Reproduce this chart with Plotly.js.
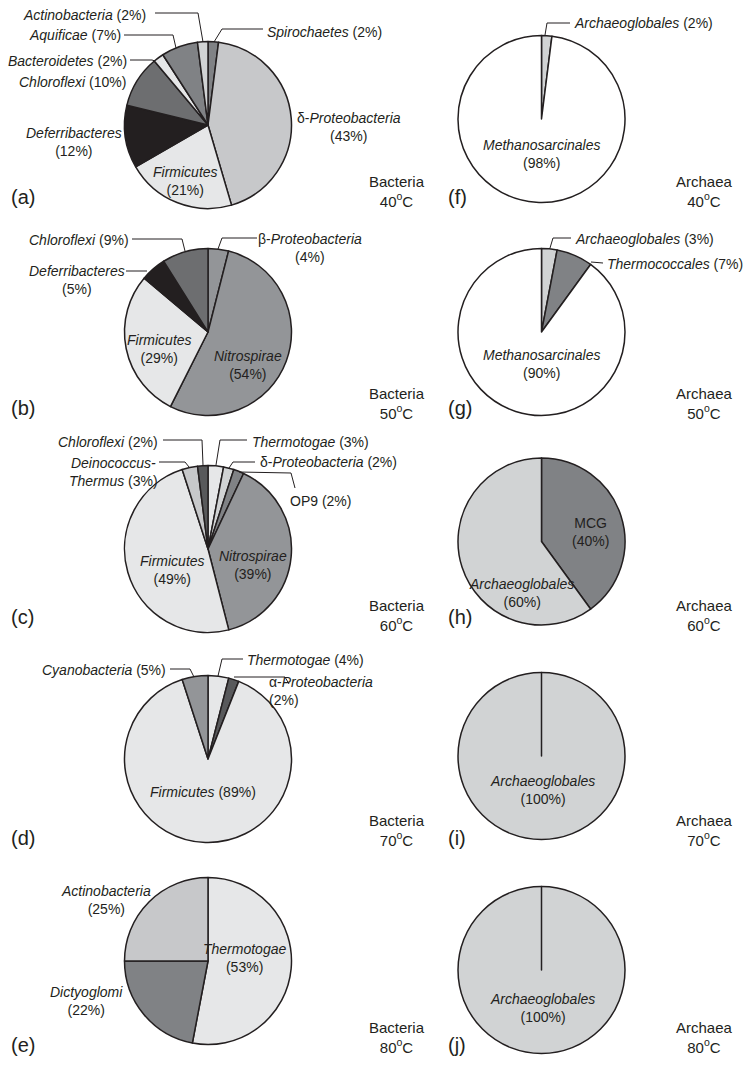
<!DOCTYPE html>
<html><head><meta charset="utf-8">
<script src="https://cdn.plot.ly/plotly-3.0.1.min.js"></script>
<style>html,body{margin:0;padding:0;background:#fff}#chart{width:749px;height:1070px}</style>
</head><body><div id="chart"></div>
<script>
// ---------- data ----------
const aLabels = ['Spirochaetes','δ-Proteobacteria','Firmicutes','Deferribacteres','Chloroflexi','Bacteroidetes','Aquificae','Actinobacteria'];
const aValues = [2,43,21,12,10,2,7,2];
const bLabels = ['β-Proteobacteria','Nitrospirae','Firmicutes','Deferribacteres','Chloroflexi'];
const bValues = [4,54,29,5,9];
const cLabels = ['Thermotogae','δ-Proteobacteria','OP9','Nitrospirae','Firmicutes','Deinococcus-Thermus','Chloroflexi'];
const cValues = [3,2,2,39,49,3,2];
const dLabels = ['Thermotogae','α-Proteobacteria','Firmicutes','Cyanobacteria'];
const dValues = [4,2,89,5];
const eLabels = ['Thermotogae','Dictyoglomi','Actinobacteria'];
const eValues = [53,22,25];
const fLabels = ['Archaeoglobales','Methanosarcinales'];
const fValues = [2,98];
const gLabels = ['Archaeoglobales','Thermococcales','Methanosarcinales'];
const gValues = [3,7,90];
const hLabels = ['MCG','Archaeoglobales'];
const hValues = [40,60];
const iLabels = ['Archaeoglobales',''];
const iValues = [100,0];
const jLabels = ['Archaeoglobales',''];
const jValues = [100,0];
const panelLetters = ['(a)','(b)','(c)','(d)','(e)','(f)','(g)','(h)','(i)','(j)'];
const domains = ['Bacteria','Archaea'];
const temperatures = ['40','50','60','70','80'];

// ---------- styles ----------
const W = 749, H = 1070;
const FONT = 'Liberation Sans, Arial, Helvetica, sans-serif';
const INK = '#231f20';
const C = {
  blk:'#231f20', dk:'#58595b', dg:'#6d6e70', md:'#808285', ml:'#939598',
  lt:'#c7c8ca', lr:'#d1d3d4', vl:'#e6e7e8', wh:'#ffffff'
};
const px = x => x / W;
const py = y => 1 - y / H;
const R = 83.5;

function pie(labels, values, colors, cx, cy) {
  return {
    type:'pie', labels:labels, values:values, sort:false, direction:'clockwise', rotation:0,
    textinfo:'none', hoverinfo:'label+value', showlegend:false,
    marker:{colors:colors, line:{color:INK, width:1.5}},
    domain:{x:[px(cx-R), px(cx+R)], y:[py(cy+R), py(cy-R)]}
  };
}

const LX = 208, RX = 541.5;
const data = [
  pie(aLabels, aValues, [C.md,C.lt,C.vl,C.blk,C.dg,C.vl,C.md,C.lr], LX, 125),
  pie(bLabels, bValues, [C.ml,C.ml,C.vl,C.blk,C.dg], LX, 332),
  pie(cLabels, cValues, [C.vl,C.lr,C.md,C.ml,C.vl,C.lt,C.dk], LX, 549),
  pie(dLabels, dValues, [C.vl,C.dk,C.vl,C.ml], LX, 759),
  pie(eLabels, eValues, [C.vl,C.md,C.lt], LX, 961),
  pie(fLabels, fValues, [C.lr,C.wh], RX, 119),
  pie(gLabels, gValues, [C.lr,C.md,C.wh], RX, 332),
  pie(hLabels, hValues, [C.md,C.lr], RX, 541.5),
  pie(iLabels, iValues, [C.lr,C.lr], RX, 756),
  pie(jLabels, jValues, [C.lr,C.lr], RX, 970)
];

// label text built from the data arrays
function nm(name) {
  const m = name.match(/^([αβδ])-(.*)$/);
  if (m) return m[1] + '-<i>' + m[2] + '</i>';
  if (name === 'OP9' || name === 'MCG') return name;
  return '<i>' + name + '</i>';
}
function lab(labels, values, k, br) {
  return nm(labels[k]) + (br ? '<br>' : ' ') + '(' + values[k] + '%)';
}

const annotations = [];
function ann(x, y, text, xanchor, size, align) {
  annotations.push({xref:'paper', yref:'paper', x:px(x), y:py(y), text:text, showarrow:false,
    xanchor:xanchor||'center', yanchor:'middle', align:align||'center',
    font:{family:FONT, size:size||14, color:INK}});
}

// (a)
ann(148, 15, lab(aLabels,aValues,7), 'right');
ann(123, 35, lab(aLabels,aValues,6), 'right');
ann(129, 61, lab(aLabels,aValues,5), 'right');
ann(128, 82, lab(aLabels,aValues,4), 'right');
ann(74, 142, lab(aLabels,aValues,3,true));
ann(185, 181, lab(aLabels,aValues,2,true));
ann(349, 127, lab(aLabels,aValues,1,true));
ann(265, 32, lab(aLabels,aValues,0), 'left');
// (f)
ann(572, 23, lab(fLabels,fValues,0), 'left');
ann(542, 154, lab(fLabels,fValues,1,true));
// (b)
ann(131, 240, lab(bLabels,bValues,4), 'right');
ann(77, 280, lab(bLabels,bValues,3,true));
ann(310, 248, lab(bLabels,bValues,0,true));
ann(159, 349, lab(bLabels,bValues,2,true));
ann(248, 365, lab(bLabels,bValues,1,true));
// (g)
ann(573, 239, lab(gLabels,gValues,0), 'left');
ann(605, 264, lab(gLabels,gValues,1), 'left');
ann(542, 364, lab(gLabels,gValues,2,true));
// (c)
ann(160, 442, lab(cLabels,cValues,6), 'right');
ann(113, 472, '<i>Deinococcus-</i><br><i>Thermus</i> (' + cValues[5] + '%)');
ann(250, 442, lab(cLabels,cValues,0), 'left');
ann(258, 462, lab(cLabels,cValues,1), 'left');
ann(288, 501, lab(cLabels,cValues,2), 'left');
ann(172, 570, lab(cLabels,cValues,4,true));
ann(253, 565, lab(cLabels,cValues,3,true));
// (h)
ann(590, 532, lab(hLabels,hValues,0,true));
ann(521, 593, lab(hLabels,hValues,1,true));
// (d)
ann(168, 670, lab(dLabels,dValues,3), 'right');
ann(245, 660, lab(dLabels,dValues,0), 'left');
ann(267, 691, lab(dLabels,dValues,1,true), 'left', 14, 'left');
ann(203, 792, lab(dLabels,dValues,2));
// (i)
ann(542, 790, lab(iLabels,iValues,0,true));
// (e)
ann(106, 900, lab(eLabels,eValues,2,true));
ann(245, 958, lab(eLabels,eValues,0,true));
ann(86, 1001, lab(eLabels,eValues,1,true));
// (j)
ann(542, 1008, lab(jLabels,jValues,0,true));

// row labels and panel letters
const rowY = [191, 403, 615, 830, 1037];
const letY = [197, 408, 617, 838, 1045];
temperatures.forEach((t, r) => {
  ann(397, rowY[r], domains[0] + '<br>' + t + '<sup>o</sup>C', 'center', 15);
  ann(704, rowY[r], domains[1] + '<br>' + t + '<sup>o</sup>C', 'center', 15);
  ann(9, letY[r], panelLetters[r], 'left', 20);
  ann(446, letY[r], panelLetters[r + 5], 'left', 20);
});

// leader lines (pixel paths)
const leaders = [
  [[155,13],[198,13],[203,42]],
  [[124,35],[173,35],[176,48]],
  [[130,60],[152,60],[155,61]],
  [[263,29],[222,29],[214,42]],
  [[570,23],[547,23],[545,35]],
  [[132,239],[182,239],[185,251]],
  [[126,271],[147,271]],
  [[257,238],[222,238],[218,249]],
  [[571,238],[553,238],[550,248]],
  [[603,263],[591,262]],
  [[163,440],[202,440],[203,465]],
  [[159,462],[185,462],[189,467]],
  [[247,440],[220,440],[216,465]],
  [[255,462],[233,462],[229,468]],
  [[295,488],[291,473],[239,472]],
  [[170,669],[190,669],[194,677]],
  [[243,659],[222,659],[218,676]],
  [[234,677],[285,677],[289,684]]
];
const shapes = leaders.map(pts => ({
  type:'path', xref:'paper', yref:'paper', layer:'above',
  path: pts.map((p, k) => (k ? 'L' : 'M') + px(p[0]) + ',' + py(p[1])).join(' '),
  line:{color:INK, width:1}
}));

const layout = {
  width:W, height:H, margin:{l:0,r:0,t:0,b:0},
  paper_bgcolor:'#fff', plot_bgcolor:'#fff',
  font:{family:FONT, color:INK},
  annotations:annotations, shapes:shapes, showlegend:false
};
Plotly.newPlot('chart', data, layout, {staticPlot:true, displayModeBar:false});
</script></body></html>
